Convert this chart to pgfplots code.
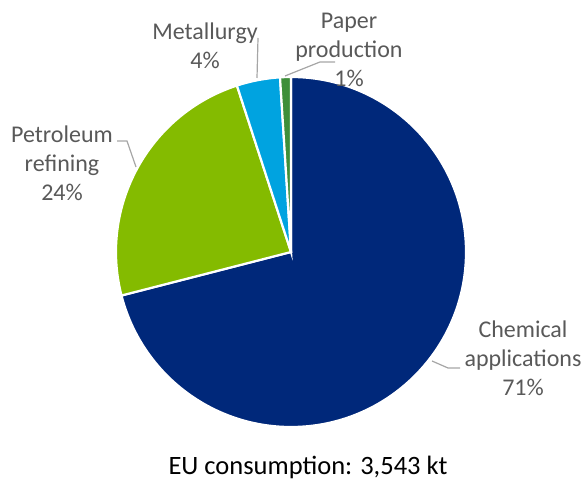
\documentclass[border=0pt]{standalone}
\usepackage{pgfplots}
\pgfplotsset{compat=1.18}
\usepackage{pgfplotstable}
\usepackage{fontspec}
\setmainfont{Carlito}
\definecolor{cChem}{HTML}{00287A}
\definecolor{cPet}{HTML}{84BB00}
\definecolor{cMet}{HTML}{00A3E0}
\definecolor{cPap}{HTML}{3E8F3A}
\definecolor{txt}{HTML}{595959}
\definecolor{lead}{HTML}{A6A6A6}

\pgfplotstableread{
sector value
Chemical 71
Petroleum 24
Metallurgy 4
Paper 1
}\piedata

% cumulative angles (clockwise from 12 o'clock)
\pgfplotstablegetrowsof{\piedata}
\pgfmathtruncatemacro{\nrows}{\pgfplotsretval-1}
\gdef\cum{0}
\foreach \i in {0,...,\nrows}{%
  \pgfplotstablegetelem{\i}{value}\of{\piedata}%
  \pgfmathsetmacro{\sa}{90-3.6*\cum}%
  \pgfmathsetmacro{\ea}{90-3.6*(\cum+\pgfplotsretval)}%
  \pgfmathsetmacro{\newcum}{\cum+\pgfplotsretval}%
  \expandafter\xdef\csname startA\i\endcsname{\sa}%
  \expandafter\xdef\csname endA\i\endcsname{\ea}%
  \xdef\cum{\newcum}%
}

\begin{document}
\begin{tikzpicture}
\begin{axis}[
  hide axis,
  x=1pt, y=1pt,
  xmin=-291, xmax=294, ymin=-232, ymax=252,
  clip=false,
  font=\fontsize{24}{29}\selectfont,
]
\def\R{175}
\fill[cChem, draw=white, line width=2.2pt]
  (axis cs:0,0) -- (axis cs:{\R*cos(\csname startA0\endcsname)},{\R*sin(\csname startA0\endcsname)})
  arc[start angle=\csname startA0\endcsname, end angle=\csname endA0\endcsname, radius=175pt] -- cycle;
\fill[cPet, draw=white, line width=2.2pt]
  (axis cs:0,0) -- (axis cs:{\R*cos(\csname startA1\endcsname)},{\R*sin(\csname startA1\endcsname)})
  arc[start angle=\csname startA1\endcsname, end angle=\csname endA1\endcsname, radius=175pt] -- cycle;
\fill[cMet, draw=white, line width=2.2pt]
  (axis cs:0,0) -- (axis cs:{\R*cos(\csname startA2\endcsname)},{\R*sin(\csname startA2\endcsname)})
  arc[start angle=\csname startA2\endcsname, end angle=\csname endA2\endcsname, radius=175pt] -- cycle;
\fill[cPap, draw=white, line width=2.2pt]
  (axis cs:0,0) -- (axis cs:{\R*cos(\csname startA3\endcsname)},{\R*sin(\csname startA3\endcsname)})
  arc[start angle=\csname startA3\endcsname, end angle=\csname endA3\endcsname, radius=175pt] -- cycle;

% leader lines
\draw[lead, line width=1.2pt] (axis cs:-33,214) -- (axis cs:-34,174);
\draw[lead, line width=1.2pt] (axis cs:-6,176) -- (axis cs:29,190) -- (axis cs:44,190);
\draw[lead, line width=1.2pt] (axis cs:-174,111) -- (axis cs:-164,111) -- (axis cs:-155,85);
\draw[lead, line width=1.2pt] (axis cs:141,-109) -- (axis cs:157,-116) -- (axis cs:169,-116);

% labels
\node[txt, align=center, anchor=center] at (axis cs:-86,206) {Metallurgy\\4\%};
\node[txt, align=center, anchor=center] at (axis cs:58,202) {Paper\\production\\1\%};
\node[txt, align=center, anchor=center] at (axis cs:-229,89) {Petroleum\\refining\\24\%};
\node[txt, align=center, anchor=center] at (axis cs:232,-106) {Chemical\\applications\\71\%};
\node[black, anchor=center, font=\fontsize{26.5}{30}\selectfont] at (axis cs:17,-215) {EU consumption: 3,543 kt};
\path (axis cs:-291,-232) rectangle (axis cs:294,252);
\end{axis}
\end{tikzpicture}
\end{document}
